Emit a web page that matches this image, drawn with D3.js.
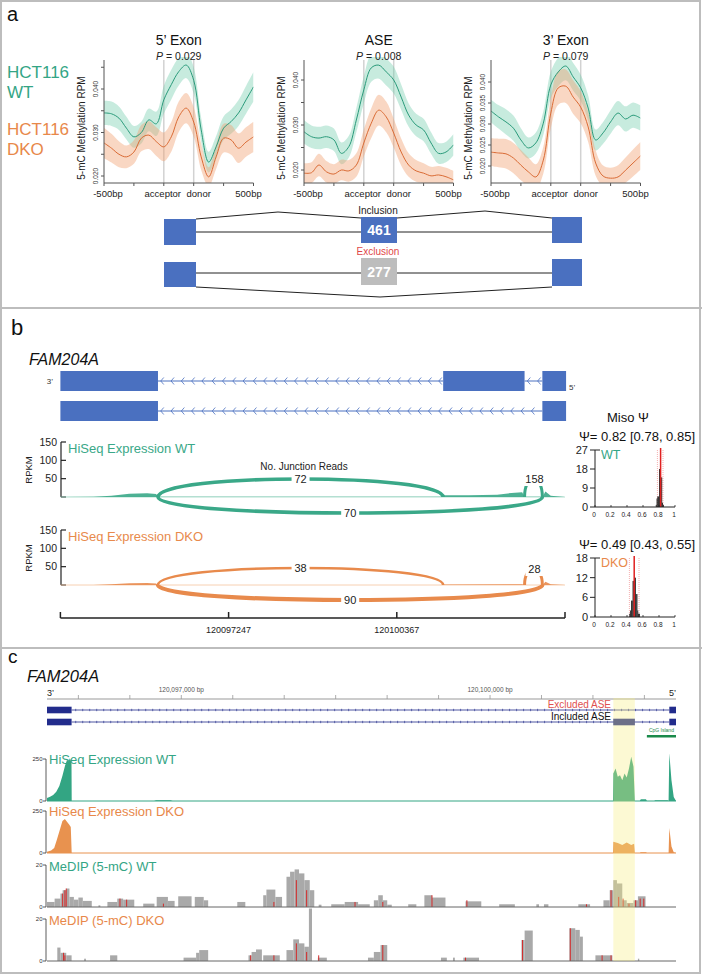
<!DOCTYPE html>
<html><head><meta charset="utf-8">
<script src="https://cdn.jsdelivr.net/npm/d3@7"></script>
<style>body{margin:0;background:#fff}svg{display:block;font-family:"Liberation Sans",Arial,Helvetica,sans-serif}</style>
</head><body>
<svg id="fig" width="702" height="975"></svg>
<script>
// ================= DATA =================
// Panel a: metaplots (x positions: 0=-500bp, 2=acceptor, 3=donor, 5=500bp)
const metaX = [0,0.25,0.5,0.75,1,1.25,1.5,1.75,2,2.25,2.5,2.75,3,3.25,3.5,3.75,4,4.25,4.5,4.75,5];
const metaTickPos = [0,1,2,3,4,5];
const metaTickLabels = ["-500bp","","acceptor","donor","","500bp"];
const metaTitles = ["5\u2019 Exon","ASE","3\u2019 Exon"];
const metaP = ["0.029","0.008","0.079"];
const exon5WT  = [0.0345,0.0343,0.0333,0.031,0.029,0.030,0.0329,0.032,0.0375,0.041,0.044,0.0455,0.042,0.0306,0.0232,0.0267,0.031,0.0325,0.0345,0.0375,0.0405];
const exon5DKO = [0.0276,0.0264,0.025,0.0244,0.0255,0.0287,0.0294,0.0279,0.0267,0.029,0.0336,0.0356,0.0324,0.0244,0.0198,0.0244,0.0287,0.0283,0.0264,0.0278,0.029];
const exon5WTci  = [0.0028,0.0028,0.0027,0.0026,0.0025,0.0025,0.0026,0.0028,0.0032,0.0034,0.0032,0.003,0.003,0.0028,0.0024,0.0025,0.0027,0.0028,0.003,0.0032,0.0034];
const exon5DKOci = [0.0035,0.0033,0.003,0.0026,0.0027,0.003,0.0032,0.0033,0.0033,0.0034,0.0035,0.0035,0.0034,0.003,0.0022,0.0028,0.0033,0.0034,0.0034,0.0034,0.0035];
const aseWT  = [0.0285,0.0274,0.0271,0.0274,0.0267,0.0237,0.0252,0.0311,0.0378,0.0427,0.0433,0.0418,0.040,0.0362,0.0322,0.030,0.0289,0.026,0.0237,0.024,0.0256];
const aseDKO = [0.0193,0.0194,0.0211,0.0196,0.0191,0.020,0.0198,0.0211,0.026,0.0304,0.0333,0.0318,0.0282,0.024,0.0211,0.0198,0.0193,0.0187,0.0189,0.0185,0.0178];
const aseWTci  = [0.0026,0.0025,0.0025,0.0025,0.0025,0.0024,0.0024,0.0027,0.003,0.0031,0.003,0.003,0.003,0.0028,0.0026,0.0025,0.0025,0.0024,0.0023,0.0023,0.0024];
const aseDKOci = [0.0022,0.0023,0.0025,0.0024,0.0022,0.0023,0.0024,0.0026,0.003,0.0033,0.0034,0.0034,0.0032,0.003,0.0026,0.0024,0.0022,0.002,0.002,0.002,0.002];
const exon3WT  = [0.0331,0.0317,0.0305,0.029,0.0262,0.0243,0.0255,0.0302,0.0393,0.0424,0.0438,0.0412,0.0386,0.0338,0.0262,0.0279,0.0305,0.0326,0.0312,0.0321,0.0314];
const exon3DKO = [0.0233,0.0231,0.0229,0.0219,0.0202,0.0186,0.0174,0.0214,0.0326,0.0386,0.039,0.0364,0.034,0.0293,0.0207,0.0176,0.0171,0.0174,0.019,0.0207,0.0224];
const exon3WTci  = [0.0027,0.0028,0.003,0.003,0.0028,0.0025,0.0025,0.0028,0.0032,0.0034,0.0034,0.0033,0.0031,0.003,0.0025,0.0026,0.0028,0.0029,0.003,0.003,0.003];
const exon3DKOci = [0.0033,0.0034,0.0035,0.0036,0.0036,0.0034,0.003,0.0032,0.0036,0.004,0.004,0.004,0.0038,0.0036,0.003,0.0025,0.0025,0.0028,0.003,0.0032,0.0033];
const exon5YTicks = [0.020,0.025,0.030,0.035,0.040,0.045];
const exon5YLabels = ["0.020","","0.030","","0.040",""];
const aseYTicks = [0.020,0.025,0.030,0.035,0.040];
const aseYLabels = ["0.020","","0.030","","0.040"];
const exon3YTicks = [0.020,0.025,0.030,0.035,0.040];
const exon3YLabels = ["0.020","0.025","0.030","0.035","0.040"];
const inclusionCount = 461, exclusionCount = 277;

// Panel b: sashimi (offsets in bp from bStart)
const bStart = 120094127;
const bTicks = [120094127,120097247,120100367,120103487];
const bTickLabels = ["","120097247","120100367",""];
const bExons = [[0,1810],[7100,8610],[8940,9380]];
const covWT  = [[0,0],[616,0.5],[946,3.6],[1278,9],[1608,10],[1775,8],[1809,0.5],[7097,0.5],[7108,4.5],[7572,4.5],[8101,6.4],[8366,11],[8565,12.7],[8611,0.5],[8943,0.5],[8997,15],[9095,3.6],[9360,0]];
const covDKO = [[0,0],[616,0.3],[946,2],[1278,5],[1608,5.5],[1775,4],[1809,0.3],[7097,0.3],[7108,1.5],[8565,2],[8611,0.3],[8943,0.3],[8997,9],[9095,2],[9360,0]];
const juncWT  = {incUp:72, exc:70, small:158};
const juncDKO = {incUp:38, exc:90, small:28};
const rpkmTicks = [50,100,150];
// MISO histograms
const psiBinsWT  = [0.76,0.77,0.78,0.79,0.80,0.81,0.82,0.83,0.84,0.85];
const psiCountWT = [1,4,5,5,18,18,14,14,2,1];
const psiBinsDKO  = [0.43,0.44,0.45,0.46,0.47,0.48,0.49,0.50,0.51,0.52,0.53,0.54,0.55];
const psiCountDKO = [1,2,5,5,11,11,12,12,7,7,2,1,1];
const psiWT = [0.82,0.78,0.85], psiDKO = [0.49,0.43,0.55];
const histTicksWT = [0,9,18,27], histTicksDKO = [0,6,12,18];
const psiAxisTicks = [0,0.2,0.4,0.6,0.8,1];

// Panel c: genome browser (offsets in bp from cStart)
const cStart = 120095695, cLen = 6112;
const rulerTicks = [120096000,120096500,120097000,120097500,120098000,120098500,120099000,120099500,120100000,120100500,120101000,120101500];
const rulerLabels = {120097000:"120,097,000 bp",120100000:"120,100,000 bp"};
const cExonsExcl = [[0,239],[6047,6112]];
const cExonsIncl = [[0,239],[5503,5712],[6047,6112]];
const aseRegion = [5503,5712];
const cpgIsland = [5829,6112];
const exprWT  = [[0,18],[30,25],[60,35],[90,55],[120,90],[150,150],[175,210],[195,245],[210,235],[222,255],[232,240],[238,230],[240,0],[1040,0],[1060,5],[1200,5],[1220,0],[5500,0],[5503,164],[5525,194],[5546,144],[5568,154],[5590,124],[5612,164],[5633,140],[5655,194],[5677,264],[5699,204],[5712,0],[5760,0],[5770,10],[5820,10],[5830,0],[5900,0],[5910,4],[6030,4],[6040,0],[6047,284],[6068,124],[6090,24],[6112,0]];
const exprDKO = [[0,8],[40,15],[70,30],[95,77],[130,149],[150,190],[174,202],[196,185],[215,170],[231,155],[240,0],[5500,0],[5503,67],[5546,59],[5590,48],[5633,62],[5677,48],[5705,55],[5712,0],[5760,0],[5770,5],[5820,5],[5830,0],[6040,0],[6047,149],[6068,38],[6090,5],[6112,0]];
const medipWT = [[0,74,2.4],[74,131,4],[131,152,6.4],[152,187,8],[187,218,8.8],[218,261,4.8],[261,305,3.5],[305,348,4.5],[348,435,2.9],[500,518,0.8],[587,683,2.4],[683,740,4],[740,848,3.5],[935,1044,1.6],[1066,1175,4.8],[1175,1240,2.9],[1275,1405,5.1],[1436,1523,4.8],[1523,1566,3.2],[1849,1927,2.4],[2101,2132,5.6],[2132,2219,8.3],[2219,2284,4.8],[2327,2362,14.4],[2362,2406,16.8],[2406,2449,17.9],[2449,2501,16],[2501,2553,12.8],[2553,2597,8],[2640,2667,1.1],[2762,2893,1.3],[2893,3023,2.4],[3023,3136,1.3],[3176,3219,3.2],[3219,3263,5.6],[3263,3306,3.2],[3306,3350,1.1],[3510,3589,1.3],[3667,3741,5.6],[3741,3872,4.5],[4067,4220,2.7],[4394,4546,1.3],[4755,4781,1.3],[4829,4872,1.3],[5163,5277,1.3],[5407,5468,3.2],[5468,5503,8],[5503,5538,12.8],[5538,5590,11.2],[5590,5633,3.2],[5633,5699,1.9],[5699,5742,3.2],[5742,5816,5.1]];
const medipDKO = [[100,131,6.4],[131,187,3.9],[187,239,2.7],[361,378,1.1],[613,683,2.7],[1327,1449,1.6],[1449,1479,3.9],[1479,1566,5.2],[1958,1988,2.7],[1988,2031,4.3],[2031,2088,5.5],[2101,2262,2.7],[2327,2393,5.2],[2393,2449,10.3],[2449,2501,8.4],[2501,2545,6.8],[2545,2575,25],[2632,2719,1.6],[3119,3176,1.6],[3176,3241,4.3],[3241,3306,7.6],[3828,3885,1.6],[3945,3963,1.6],[4046,4198,1.6],[4611,4641,10],[4641,4720,14.5],[5076,5133,15.6],[5133,5177,14.8],[5177,5207,11.6],[5329,5494,2.7],[5742,5755,1.1]];
const redWT  = [[152,6.4],[174,8],[187,8.8],[709,4],[774,3.5],[1131,1.6],[2205,2.4],[2423,12.8],[2523,8],[2993,2.4],[3263,2.4],[3741,5.6],[4080,3.2],[5242,1.3],[5481,8],[5555,4.8],[5598,4],[5655,1.6],[5720,3.2],[5764,4],[5799,4]];
const redDKO = [[161,3.9],[174,2.7],[1979,2.7],[2205,2.7],[2423,8.4],[2523,4.3],[2640,2.7],[3263,7.6],[4067,1.6],[4620,10],[5085,15.6],[5394,2.7],[5481,2.7]];

// ================= DRAW =================
const svg = d3.select("#fig");
const teal = "#34a585", tealLine = "#2a9a7a", orange = "#e8884a", orangeLine = "#d96b35", blue = "#4a70c0", navy = "#222c8c";
function txt(g,x,y,s,o={}){
  const t=g.append("text").attr("x",x).attr("y",y).text(s)
    .attr("font-size",o.size||10).attr("fill",o.fill||"#222").attr("text-anchor",o.anchor||"start");
  if(o.weight) t.attr("font-weight",o.weight);
  if(o.style) t.attr("font-style",o.style);
  if(o.baseline) t.attr("dominant-baseline",o.baseline);
  if(o.rotate) t.attr("transform",`rotate(${o.rotate},${x},${y})`);
  return t;
}
function line(g,x1,y1,x2,y2,stroke,w){return g.append("line").attr("x1",x1).attr("y1",y1).attr("x2",x2).attr("y2",y2).attr("stroke",stroke).attr("stroke-width",w||1);}

// frame
svg.append("rect").attr("x",1).attr("y",1).attr("width",699).attr("height",972).attr("fill","none").attr("stroke","#bdbdbd").attr("stroke-width",2);
line(svg,0,308,702,308,"#bdbdbd",2);
line(svg,0,648,702,648,"#bdbdbd",2);

// ---------- Panel a ----------
const A = svg.append("g");
txt(A,7,21,"a",{size:20,fill:"#111"});
txt(A,7,78,"HCT116",{size:17,fill:teal});
txt(A,7,98,"WT",{size:17,fill:teal});
txt(A,7,135,"HCT116",{size:17,fill:orange});
txt(A,7,155,"DKO",{size:17,fill:orange});

const metaSets = [
  {title:metaTitles[0],p:metaP[0],wt:exon5WT,dko:exon5DKO,wtCI:exon5WTci,dkoCI:exon5DKOci,ticks:exon5YTicks,labels:exon5YLabels},
  {title:metaTitles[1],p:metaP[1],wt:aseWT,dko:aseDKO,wtCI:aseWTci,dkoCI:aseDKOci,ticks:aseYTicks,labels:aseYLabels},
  {title:metaTitles[2],p:metaP[2],wt:exon3WT,dko:exon3DKO,wtCI:exon3WTci,dkoCI:exon3DKOci,ticks:exon3YTicks,labels:exon3YLabels}
];
const aX0=[104,304,491], aW=149.5, aTop=60, aBot=183;
const aYRange=[[176,89],[170,80],[166,82]];
metaSets.forEach((m,i)=>{
  const x0=aX0[i];
  const x=d3.scaleLinear().domain([0,5]).range([x0,x0+aW]);
  const y=d3.scaleLinear().domain([0.020,0.040]).range(aYRange[i]);
  const g=A.append("g");
  const cid="clipA"+i;
  svg.append("clipPath").attr("id",cid).append("rect").attr("x",x0).attr("y",aTop-3).attr("width",aW).attr("height",aBot-aTop+3);
  [2,3].forEach(p=>line(g,x(p),aTop,x(p),aBot,"#d2d2d2",1.5));
  const pts=(v,c)=>metaX.map((p,k)=>({p,v:v[k],c:c[k]}));
  const cur=d3.curveCatmullRom.alpha(0.5);
  const area=d3.area().x(d=>x(d.p)).y0(d=>y(d.v-d.c)).y1(d=>y(d.v+d.c)).curve(cur);
  const ln=d3.line().x(d=>x(d.p)).y(d=>y(d.v)).curve(cur);
  const cg=g.append("g").attr("clip-path",`url(#${cid})`);
  cg.append("path").attr("d",area(pts(m.wt,m.wtCI))).attr("fill","#6ccaa8").attr("fill-opacity",0.38);
  cg.append("path").attr("d",area(pts(m.dko,m.dkoCI))).attr("fill","#f0a070").attr("fill-opacity",0.42);
  cg.append("path").attr("d",ln(pts(m.wt,m.wtCI))).attr("fill","none").attr("stroke",tealLine).attr("stroke-width",1);
  cg.append("path").attr("d",ln(pts(m.dko,m.dkoCI))).attr("fill","none").attr("stroke",orangeLine).attr("stroke-width",1);
  // axes
  line(g,x0,aTop,x0,aBot,"#555",1);
  line(g,x0,aBot,x0+aW,aBot,"#555",1);
  const lblOff=[4,0,-1,5,0,-5];
  metaTickPos.forEach((p,k)=>{
    line(g,x(p),aBot,x(p),aBot+3,"#555",1);
    if(metaTickLabels[k]) txt(g,x(p)+lblOff[k],197,metaTickLabels[k],{size:9.5,anchor:"middle",fill:"#222"});
  });
  m.ticks.forEach((t,k)=>{
    line(g,x0-3,y(t),x0,y(t),"#555",1);
    if(m.labels[k]) txt(g,x0-6,y(t),m.labels[k],{size:6.5,anchor:"middle",rotate:-90,fill:"#333"});
  });
  txt(g,x0-19,128,"5-mC Methylation RPM",{size:10,anchor:"middle",rotate:-90,fill:"#222"});
  const cx=x0+aW*0.5;
  txt(g,cx,45,m.title,{size:14,anchor:"middle",fill:"#111"});
  const pt=txt(g,cx,60,"",{size:10.5,anchor:"middle",fill:"#222"});
  pt.append("tspan").attr("font-style","italic").text("P");
  pt.append("tspan").text(" = "+m.p);
});

// inclusion / exclusion diagram
const D=A.append("g");
const exL=[164,32], exM=[361,36], exR=[552,30];
D.append("polyline").attr("points","196,219 278,212 361,218").attr("fill","none").attr("stroke","#222").attr("stroke-width",1);
D.append("polyline").attr("points","397,218 485,211 552,218").attr("fill","none").attr("stroke","#222").attr("stroke-width",1);
line(D,196,232,552,232,"#222",1);
D.append("rect").attr("x",exL[0]).attr("y",219).attr("width",exL[1]).attr("height",26).attr("fill",blue);
D.append("rect").attr("x",exM[0]).attr("y",217).attr("width",exM[1]).attr("height",26).attr("fill",blue);
D.append("rect").attr("x",exR[0]).attr("y",217).attr("width",exR[1]).attr("height",26).attr("fill",blue);
txt(D,379,235,String(inclusionCount),{size:14,weight:"bold",fill:"#fff",anchor:"middle"});
txt(D,378,214,"Inclusion",{size:10,anchor:"middle",fill:"#222"});
line(D,196,273,552,273,"#222",1);
D.append("polyline").attr("points","196,287 380,297 552,287").attr("fill","none").attr("stroke","#222").attr("stroke-width",1);
D.append("rect").attr("x",exL[0]).attr("y",262).attr("width",exL[1]).attr("height",25).attr("fill",blue);
D.append("rect").attr("x",exM[0]).attr("y",258).attr("width",exM[1]).attr("height",27).attr("fill","#bdbdbd");
D.append("rect").attr("x",exR[0]).attr("y",259).attr("width",exR[1]).attr("height",27).attr("fill",blue);
txt(D,379,277,String(exclusionCount),{size:14,weight:"bold",fill:"#fff",anchor:"middle"});
txt(D,378,255,"Exclusion",{size:10,anchor:"middle",fill:"#e04848"});

// ---------- Panel b ----------
const B = svg.append("g");
txt(B,11,335,"b",{size:22,fill:"#111"});
txt(B,29,365,"FAM204A",{size:16,style:"italic",fill:"#111"});
const xb=d3.scaleLinear().domain([bStart,bTicks[3]]).range([60.4,565]);
const xo=o=>xb(bStart+o);
function geneRow(g,exons,yc,h){
  const introns=[];
  for(let k=0;k<exons.length-1;k++) introns.push([exons[k][1],exons[k+1][0]]);
  introns.forEach(([a,b])=>{
    line(g,xo(a),yc,xo(b),yc,blue,1);
    d3.range(a+70,b-40,191).forEach(p=>{
      const px=xo(p);
      g.append("path").attr("d",`M${px+2},${yc-3.5} L${px-1},${yc} L${px+2},${yc+3.5}`).attr("fill","none").attr("stroke",blue).attr("stroke-width",0.8);
    });
  });
  exons.forEach(([a,b])=>g.append("rect").attr("x",xo(a)).attr("y",yc-h/2).attr("width",xo(b)-xo(a)).attr("height",h).attr("fill",blue));
}
geneRow(B,bExons,381,20);
geneRow(B,[bExons[0],bExons[2]],411,20);
txt(B,53,384,"3\u2019",{size:8,anchor:"end",fill:"#333"});
txt(B,569,390,"5\u2019",{size:8,fill:"#333"});

function sashimi(g,base,cov,junc,colLine,colFill,label,peakUp,peakDown,smallTop){
  const y=d3.scaleLinear().domain([0,150]).range([base,base-55]);
  line(g,61,y(150),61,base,"#222",1.2);
  [0].concat(rpkmTicks).forEach(t=>line(g,61,y(t),66,y(t),"#222",1.2));
  rpkmTicks.forEach(t=>txt(g,57,y(t)+3.5,String(t),{size:10.5,anchor:"end",fill:"#222"}));
  txt(g,28,base-27,"RPKM",{size:9.5,anchor:"middle",rotate:-90,fill:"#222",baseline:"central"});
  txt(g,68,base-44,label,{size:13,fill:colLine});
  line(g,60.4,base,565,base,colFill,0.8);
  const ar=d3.area().x(d=>xo(d[0])).y0(base).y1(d=>y(d[1]));
  g.append("path").attr("d",ar(cov)).attr("fill",colLine).attr("fill-opacity",0.9);
  const e1=xo(bExons[0][1]), s2=xo(bExons[1][0]), e2=xo(bExons[1][1]), s3=xo(bExons[2][0]);
  const sw=r=>Math.min(4.2,1.4+r/32);
  function arc(x1,x2,peak,w){const c=base+(peak-base)/0.75; return g.append("path").attr("d",`M${x1},${base} C${x1},${c} ${x2},${c} ${x2},${base}`).attr("fill","none").attr("stroke",colLine).attr("stroke-width",w);}
  function lab(xc,yc,s,wd){g.append("rect").attr("x",xc-wd/2).attr("y",yc-7).attr("width",wd).attr("height",14).attr("fill","#fff");txt(g,xc,yc+4,s,{size:11,anchor:"middle",fill:"#222"});}
  arc(e1,s2,peakUp,sw(junc.incUp)); lab((e1+s2)/2,peakUp,String(junc.incUp),18);
  arc(e1,s3,peakDown,sw(junc.exc)); lab((e1+s3)/2,peakDown,String(junc.exc),18);
  arc(e2,s3,smallTop-8,3); lab((e2+s3)/2+1,smallTop-8,String(junc.small),String(junc.small).length*7+4);
}
sashimi(B,497,covWT,juncWT,"#3aa888","#9fd8c4","HiSeq Expression WT",479,513,487);
txt(B,304,470,"No. Junction Reads",{size:10,anchor:"middle",fill:"#222"});
sashimi(B,585,covDKO,juncDKO,"#e88a4c","#f5c4a0","HiSeq Expression DKO",568,600,577);
line(B,60.4,618,565,618,"#222",1.5);
bTicks.forEach((t,k)=>{line(B,xb(t),612,xb(t),618,"#222",1.5); if(bTickLabels[k]) txt(B,xb(t),633,bTickLabels[k],{size:9,anchor:"middle",fill:"#222"});});

// MISO histograms
txt(B,628,422,"Miso \u03A8",{size:13,anchor:"middle",fill:"#111"});
function hist(g,top,bot,bins,counts,ticks,psi,label,col){
  const x=d3.scaleLinear().domain([0,1]).range([595,675]);
  const y=d3.scaleLinear().domain([0,ticks[ticks.length-1]]).range([bot,top]);
  txt(g,637,top-9,`\u03A8= ${psi[0].toFixed(2)} [${psi[1].toFixed(2)}, ${psi[2].toFixed(2)}]`,{size:13,anchor:"middle",fill:"#111"});
  [psi[1],psi[2]].forEach(v=>line(g,x(v),top,x(v),bot,"#f29a9a",0.8).attr("stroke-dasharray","1,1"));
  bins.forEach((b,k)=>g.append("rect").attr("x",x(b)).attr("y",y(counts[k])).attr("width",x(b+0.01)-x(b)).attr("height",bot-y(counts[k])).attr("fill","#111"));
  line(g,x(psi[0]),top-2,x(psi[0]),bot,"#e02020",1.5);
  line(g,595,top,595,bot,"#222",1);
  line(g,595,bot,675,bot,"#222",1);
  line(g,595,top,600,top,"#222",1);
  ticks.forEach(t=>{line(g,590,y(t),595,y(t),"#222",1);txt(g,588,y(t)+4,String(t),{size:11,anchor:"end",fill:"#222"});});
  psiAxisTicks.forEach(t=>{line(g,x(t),bot,x(t),bot-2,"#222",0.8);txt(g,x(t)-1,bot+10,String(t),{size:6.5,anchor:"middle",fill:"#222"});});
  txt(g,601,top+9,label,{size:12.5,fill:col});
}
hist(B,450,507,psiBinsWT,psiCountWT,histTicksWT,psiWT,"WT",teal);
hist(B,558,617,psiBinsDKO,psiCountDKO,histTicksDKO,psiDKO,"DKO",orange);

// ---------- Panel c ----------
const C = svg.append("g");
txt(C,8,663,"c",{size:19,fill:"#111"});
txt(C,27,682,"FAM204A",{size:16.5,style:"italic",fill:"#111"});
const xg=d3.scaleLinear().domain([cStart,cStart+cLen]).range([47,676]);
const xc=o=>xg(cStart+o);
line(C,47,699,676,699,"#999",1);
rulerTicks.forEach(t=>{line(C,xg(t),695,xg(t),699,"#999",0.8); if(rulerLabels[t]) txt(C,xg(t),692,rulerLabels[t],{size:6.5,anchor:"middle",fill:"#555"});});
txt(C,47,696,"3\u2019",{size:9,fill:"#222"});
txt(C,676,696,"5\u2019",{size:9,anchor:"end",fill:"#222"});
function cRow(exons,yc){
  line(C,xc(exons[0][1]),yc,xc(exons[exons.length-1][0]),yc,navy,0.8);
  d3.range(exons[0][1]+40,exons[exons.length-1][0],68).forEach(p=>{
    if(exons.some(e=>p>e[0]-10&&p<e[1]+10)) return;
    line(C,xc(p),yc-1.2,xc(p),yc+1.2,navy,0.6);
  });
  exons.forEach(([a,b])=>C.append("rect").attr("x",xc(a)).attr("y",yc-3.3).attr("width",xc(b)-xc(a)).attr("height",6.6).attr("fill",navy));
}
cRow(cExonsExcl,710);
cRow(cExonsIncl,722);
txt(C,611,707.5,"Excluded ASE",{size:10,anchor:"end",fill:"#e05050"});
txt(C,611,720,"Included ASE",{size:10,anchor:"end",fill:"#111"});
C.append("rect").attr("x",xc(cpgIsland[0])).attr("y",735).attr("width",xc(cpgIsland[1])-xc(cpgIsland[0])).attr("height",2.5).attr("fill","#1a8a4a");
txt(C,(xc(cpgIsland[0])+xc(cpgIsland[1]))/2,732,"CpG Island",{size:5,anchor:"middle",fill:"#1a8a4a"});

function trackAxis(y,maxLbl){
  line(C,46,y(maxLbl),46,y(0),"#333",0.8);
  [0,maxLbl].forEach(t=>{line(C,43,y(t),46,y(t),"#333",0.8);txt(C,42.5,y(t)+2,String(t),{size:6,anchor:"end",fill:"#333"});});
}
function exprTrack(top,base,data,col,label,lcol){
  const y=d3.scaleLinear().domain([0,250]).range([base,top]);
  trackAxis(y,250);
  line(C,47,base,676,base,col,1);
  C.append("path").attr("d",d3.area().x(d=>xc(d[0])).y0(base).y1(d=>y(d[1]))(data)).attr("fill",col);
  txt(C,49,top+5,label,{size:13,fill:lcol});
}
exprTrack(759,801,exprWT,"#33a583","HiSeq Expression WT",teal);
exprTrack(811,853,exprDKO,"#e8924f","HiSeq Expression DKO",orange);
function medipTrack(top,base,bars,reds,label,lcol){
  const y=d3.scaleLinear().domain([0,20]).range([base,top]);
  trackAxis(y,20);
  bars.forEach(([a,b,v])=>C.append("rect").attr("x",xc(a)).attr("y",y(v)).attr("width",Math.max(0.8,xc(b)-xc(a))).attr("height",base-y(v)).attr("fill","#a9a9a9"));
  reds.forEach(([p,v])=>line(C,xc(p),y(v),xc(p),base,"#d42a2a",1));
  line(C,47,base,676,base,"#666",1);
  txt(C,49,top+6,label,{size:13,fill:lcol});
}
medipTrack(865,907,medipWT,redWT,"MeDIP (5-mC) WT",teal);
medipTrack(919,961,medipDKO,redDKO,"MeDIP (5-mC) DKO",orange);
C.append("rect").attr("x",xc(aseRegion[0])).attr("y",698).attr("width",xc(aseRegion[1])-xc(aseRegion[0])).attr("height",263).attr("fill","#f6ef80").attr("fill-opacity",0.35);
</script>
</body></html>
